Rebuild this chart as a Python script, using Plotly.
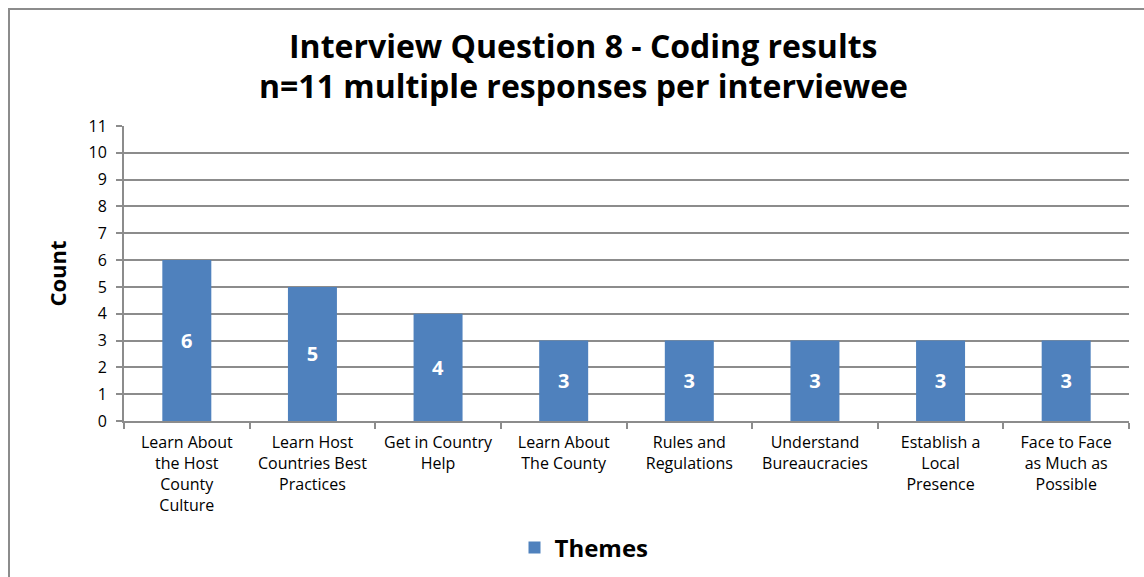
import plotly.graph_objects as go

categories = [
    "Learn About<br>the Host<br>County<br>Culture",
    "Learn Host<br>Countries Best<br>Practices",
    "Get in Country<br>Help",
    "Learn About<br>The County",
    "Rules and<br>Regulations",
    "Understand<br>Bureaucracies",
    "Establish a<br>Local<br>Presence",
    "Face to Face<br>as Much as<br>Possible",
]
counts = [6, 5, 4, 3, 3, 3, 3, 3]
y_ticks = list(range(0, 12))
title_lines = ["Interview Question 8 - Coding results", "n=11 multiple responses per interviewee"]

W, H = 1144, 577
L, R, T, B = 124, 15, 126, 156
pw, ph = W - L - R, H - T - B

def px2paper_x(x):
    return (x - L) / pw

def px2paper_y(y):
    return 1 - (y - T) / ph

BAR = "#4F81BD"
GRID = "#8c8c8c"
FONT = "Open Sans, Liberation Sans, sans-serif"

fig = go.Figure()
fig.add_trace(go.Bar(
    x=categories, y=counts, name="Themes",
    marker=dict(color=BAR, line=dict(width=0)),
    text=[str(v) for v in counts], textposition="inside",
    insidetextanchor="middle",
    textfont=dict(color="white", size=20, family=FONT, weight="bold"),
    showlegend=True,
))

annotations = []
for line, yc in zip(title_lines, [45, 86]):
    annotations.append(dict(
        text=line, xref="paper", yref="paper",
        x=px2paper_x(583), y=px2paper_y(yc), xanchor="center", yanchor="middle",
        showarrow=False,
        font=dict(size=32, family=FONT, color="black", weight="bold"),
    ))

fig.update_layout(
    width=W, height=H,
    margin=dict(l=L, r=R, t=T, b=B, autoexpand=False),
    paper_bgcolor="white", plot_bgcolor="white",
    bargap=0.61,
    annotations=annotations,
    xaxis=dict(
        type="category", automargin=False, tickangle=0,
        showline=True, linecolor=GRID, linewidth=2,
        ticks="outside", tickson="boundaries", ticklen=6, tickcolor=GRID, tickwidth=2,
        tickfont=dict(size=16, family=FONT, color="black"),
        ticklabelstandoff=6,
        showgrid=False,
    ),
    yaxis=dict(
        range=[0, 11], tickvals=y_ticks, automargin=False,
        showline=True, linecolor=GRID, linewidth=2,
        ticks="outside", ticklen=6, tickcolor=GRID, tickwidth=2,
        tickfont=dict(size=16, family=FONT, color="black"),
        ticklabelstandoff=6,
        showgrid=True, gridcolor=GRID, gridwidth=2,
        zeroline=False,
        title=dict(text="Count", font=dict(size=22, family=FONT, color="black", weight="bold"), standoff=16),
    ),
    legend=dict(
        orientation="h", x=px2paper_x(584), xanchor="center",
        y=px2paper_y(548), yanchor="middle",
        font=dict(size=24, family=FONT, color="black", weight="bold"),
        itemwidth=30,
    ),
    shapes=[dict(
        type="rect", xref="paper", yref="paper",
        x0=px2paper_x(9), x1=px2paper_x(1160),
        y0=px2paper_y(600), y1=px2paper_y(9),
        line=dict(color="#8c8c8c", width=2), fillcolor="rgba(0,0,0,0)", layer="below",
    )],
)

fig.write_html("out.html")
